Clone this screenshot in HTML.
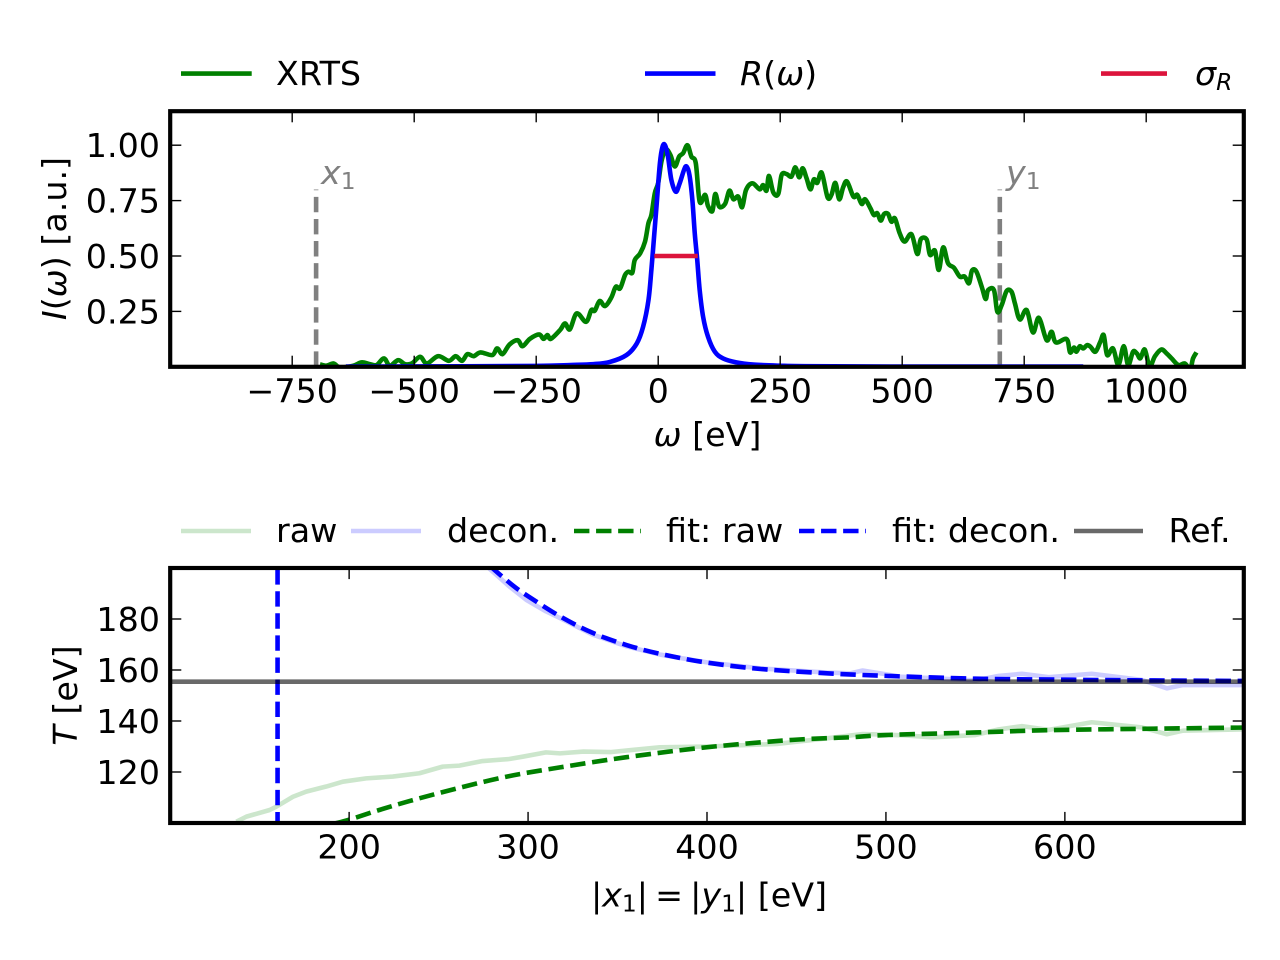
<!DOCTYPE html>
<html lang="en">
<head>
<meta charset="utf-8">
<title>XRTS spectrum and temperature fit</title>
<style>
html,body{margin:0;padding:0;background:#fff;width:1280px;height:960px;overflow:hidden}
svg{display:block}
text{font-family:"DejaVu Sans","Liberation Sans",sans-serif;font-size:33.33px;fill:#000}
.m{font-style:italic}
.s{font-size:23.33px}
</style>
</head>
<body>
<svg id="fig" xmlns="http://www.w3.org/2000/svg" width="1280" height="960" viewBox="0 0 1280 960">
  <defs>
    <clipPath id="clip-top"><rect x="170.2" y="111.2" width="1073.6" height="255.6"/></clipPath>
    <clipPath id="clip-bottom"><rect x="170.2" y="568" width="1073.6" height="255"/></clipPath>
  </defs>
  <g id="top-marks" clip-path="url(#clip-top)"></g>
  <g id="bottom-marks" clip-path="url(#clip-bottom)"></g>
  <g id="ticks"></g>

  <rect x="170.2" y="111.2" width="1073.6" height="255.6" fill="none" stroke="#000" stroke-width="4.17"/>
  <rect x="170.2" y="568" width="1073.6" height="255" fill="none" stroke="#000" stroke-width="4.17"/>

  <!-- top legend -->
  <g>
    <g>
      <line x1="181" y1="73.6" x2="251.7" y2="73.6" stroke="#008000" stroke-width="4.6"/>
      <text x="276" y="85">XRTS</text>
    </g>
    <g>
      <line x1="645" y1="73.6" x2="715.5" y2="73.6" stroke="#0000ff" stroke-width="4.6"/>
      <text x="740" y="85"><tspan class="m">R</tspan>(<tspan class="m">ω</tspan>)</text>
    </g>
    <g>
      <line x1="1101" y1="73.6" x2="1167" y2="73.6" stroke="#dc143c" stroke-width="4.6"/>
      <text x="1195" y="85"><tspan class="m">σ</tspan><tspan class="m s" dy="5">R</tspan></text>
    </g>
  </g>

  <!-- bottom legend -->
  <g>
    <g>
      <line x1="181" y1="531" x2="251" y2="531" stroke="#008000" stroke-opacity="0.2" stroke-width="4.6"/>
      <text x="276" y="542">raw</text>
    </g>
    <g>
      <line x1="351" y1="531" x2="421" y2="531" stroke="#0000ff" stroke-opacity="0.2" stroke-width="4.6"/>
      <text x="447" y="542">decon.</text>
    </g>
    <g>
      <line x1="574" y1="531" x2="641" y2="531" stroke="#008000" stroke-width="4.6" stroke-dasharray="15.4 6.67"/>
      <text x="666" y="542">fit: raw</text>
    </g>
    <g>
      <line x1="799" y1="531" x2="866" y2="531" stroke="#0000ff" stroke-width="4.6" stroke-dasharray="15.4 6.67"/>
      <text x="892" y="542">fit: decon.</text>
    </g>
    <g>
      <line x1="1074" y1="531" x2="1143" y2="531" stroke="#000" stroke-opacity="0.59" stroke-width="4.6"/>
      <text x="1168.5" y="542">Ref.</text>
    </g>
  </g>

  <!-- annotations -->
  <text x="321" y="184" style="fill:#808080"><tspan class="m">x</tspan><tspan class="s" dy="5">1</tspan></text>
  <text x="1006" y="184" style="fill:#808080"><tspan class="m">y</tspan><tspan class="s" dy="5">1</tspan></text>

  <!-- axis titles -->
  <text x="707.5" y="446" text-anchor="middle"><tspan class="m">ω</tspan> [eV]</text>
  <text transform="translate(66,238.5) rotate(-90)" text-anchor="middle"><tspan class="m">I</tspan>(<tspan class="m">ω</tspan>) [a.u.]</text>
  <text x="709" y="906.5" text-anchor="middle">|<tspan class="m">x</tspan><tspan class="s" dy="5">1</tspan><tspan dy="-5" style="word-spacing:-3.5px">| = |</tspan><tspan class="m">y</tspan><tspan class="s" dy="5">1</tspan><tspan dy="-5">| [eV]</tspan></text>
  <text transform="translate(77,695.5) rotate(-90)" text-anchor="middle"><tspan class="m">T</tspan> [eV]</text>
</svg>

<script>
// ---------- spectrum panel data ----------
const xrtsOmega = [-693,-680,-665,-653,-625,-608,-591,-577,-562,-550,-533,-519,-505,-488,-474,-451,-429,-415,-402,-391,-378,-364,-340,-330,-319,-305,-288,-278,-263,-244,-235,-227,-220,-201,-191,-181,-167,-148,-137,-130,-120,-109,-96,-87,-78,-68,-61,-53,-48,-37,-27,-20,-14,-7,0,7,16,25,34,43,51,60,68,77,85,96,102,111,117,125,137,146,154,164,172,180,193,208,215,222,227,236,246,253,263,273,281,289,296,304,312,319,326,335,347,355,363,371,379,387,400,408,417,424,435,442,449,456,463,471,478,485,495,505,519,531,538,550,557,567,575,584,594,606,618,628,637,643,652,663,671,676,688,695,704,714,724,731,741,755,768,780,796,806,815,837,844,852,857,864,871,879,886,896,906,913,920,932,943,954,963,973,981,988,997,1007,1018,1031,1042,1052,1066,1079,1090,1096,1103];
const xrtsIntensity = [0.011,0.005,0.015,-0.002,0.005,0.02,0.012,0.008,0.038,0.005,0.03,0.012,0.015,0.045,0.015,0.048,0.027,0.048,0.027,0.057,0.048,0.065,0.053,0.083,0.057,0.1,0.12,0.093,0.126,0.146,0.126,0.143,0.126,0.166,0.196,0.169,0.241,0.203,0.256,0.253,0.297,0.274,0.313,0.361,0.354,0.414,0.429,0.425,0.482,0.512,0.565,0.648,0.685,0.783,0.83,0.93,0.98,0.956,0.904,0.949,0.964,1.0,0.949,0.919,0.745,0.776,0.726,0.703,0.78,0.723,0.735,0.795,0.756,0.768,0.72,0.798,0.828,0.801,0.82,0.795,0.861,0.786,0.78,0.866,0.87,0.858,0.9,0.855,0.896,0.851,0.801,0.846,0.83,0.876,0.765,0.776,0.83,0.756,0.81,0.836,0.768,0.776,0.735,0.756,0.715,0.685,0.693,0.66,0.69,0.69,0.655,0.67,0.602,0.565,0.598,0.509,0.575,0.575,0.505,0.524,0.437,0.539,0.467,0.447,0.407,0.407,0.377,0.434,0.43,0.361,0.306,0.346,0.346,0.248,0.279,0.342,0.339,0.286,0.214,0.256,0.155,0.221,0.12,0.158,0.11,0.125,0.065,0.087,0.068,0.093,0.083,0.098,0.09,0.068,0.113,0.143,0.053,0.083,0.008,0.093,0.008,0.068,0.06,0.038,0.078,0.003,0.048,0.078,0.06,0.038,0.008,0.015,-0.01,0.038,0.065];

const respOmega = [-640,-400,-250,-180,-133,-99,-65,-44,-31,-20,-14,-8,-3,3.5,9,14,20,27,36,44,53,58,64,70,75,80,85,92,102,116,133,160,195,249,300,500,871];
const respIntensity = [0.001,0.002,0.004,0.008,0.012,0.022,0.053,0.105,0.18,0.3,0.437,0.6,0.738,0.919,0.994,1.0,0.949,0.843,0.79,0.828,0.889,0.904,0.866,0.753,0.6,0.482,0.346,0.226,0.136,0.068,0.038,0.02,0.01,0.005,0.003,0.001,0.001];

const sigmaOmega = [-8, 81];
const sigmaIntensity = [0.5, 0.5];

const cutoffOmega = [-701, 700];
const cutoffHeight = [0.8, 0.8];

const spectrumXTicks = [-750,-500,-250,0,250,500,750,1000];
const spectrumXLabels = ['\u2212750','\u2212500','\u2212250','0','250','500','750','1000'];
const spectrumYTicks = [0.25,0.5,0.75,1.0];
const spectrumYLabels = ['0.25','0.50','0.75','1.00'];

// ---------- temperature panel data ----------
const rawX = [137,142.6,155.6,159.3,168.6,176,187.2,196.5,209.5,224.4,239.3,252.3,261.6,274.6,289.5,297,310,317.8,331,346,373.6,400,439,467,487,510,526,550,563,576,591,615,643,657,666,697.5,705];
const rawT = [100.5,102.5,105.1,106.4,110.3,112.3,114.3,116.2,117.5,118.2,119.5,122.1,122.5,124.3,125.1,126,127.7,127.3,128,127.8,129.7,130,131,133.2,134.9,134.4,133.6,134.5,136.7,138,136.5,139.5,137.5,134.8,136.2,136.7,136.8];

const deconX = [278,290,299,310,318,336,355,374,400,430,467,480,487,508,526,550,563,576,591,615,643,657,666,697.5,705];
const deconT = [200,192.5,187.5,183,180.3,173.9,169.3,166,163,160.6,159,158.7,159.8,157.4,156.8,155.9,157.7,158.5,157.2,158.5,156.1,152.8,154.1,154.1,154.2];

const fitRawX = [192,200,215,233.7,261.6,289.5,317.8,355,400,448,480,500,550,591,650,697,705];
const fitRawT = [99.8,101.3,104.7,108.6,113.8,118.4,121.8,125.8,129.7,132.6,133.6,134.5,135.5,136.4,137,137.4,137.5];

const fitDeconX = [160,160,280,290,299,318,336,355,374,400,430,467,500,550,600,650,700,705];
const fitDeconT = [98.3,1000,200,194,189.4,181,174.6,169.8,166.3,162.9,160.4,158.7,157.7,156.6,156.2,155.9,155.7,155.7];

const refX = [100, 700];
const refT = [155.4, 155.4];

const tempXTicks = [200,300,400,500,600];
const tempXLabels = ['200','300','400','500','600'];
const tempYTicks = [120,140,160,180];
const tempYLabels = ['120','140','160','180'];

// ---------- axis functions ----------
const AX = {l:170.2, r:1243.8};
const sx = w => AX.l + (w + 1000) / 2200 * (AX.r - AX.l);
const sy = v => 366.8 - v * 221.6;
const tx = x => AX.l + (x - 100) / 600 * (AX.r - AX.l);
const ty = t => 823 - (t - 100) * 2.55;

const NS = 'http://www.w3.org/2000/svg';
const topG = document.getElementById('top-marks');
const botG = document.getElementById('bottom-marks');
const tickG = document.getElementById('ticks');

// Polyline up to index smoothFrom, then a Catmull-Rom curve through the remaining samples.
function pathFrom(xs, ys, fx, fy, smoothFrom) {
  const px = xs.map(fx), py = ys.map(fy);
  const n = px.length;
  let d = 'M' + px[0].toFixed(2) + ' ' + py[0].toFixed(2);
  for (let i = 1; i < n; i++) {
    if (smoothFrom === undefined || i - 1 < smoothFrom) {
      d += 'L' + px[i].toFixed(2) + ' ' + py[i].toFixed(2);
    } else {
      const a = Math.max(i - 2, smoothFrom), b = i - 1, c = i, e = Math.min(i + 1, n - 1);
      const c1x = px[b] + (px[c] - px[a]) / 6, c1y = py[b] + (py[c] - py[a]) / 6;
      const c2x = px[c] - (px[e] - px[b]) / 6, c2y = py[c] - (py[e] - py[b]) / 6;
      d += 'C' + c1x.toFixed(2) + ' ' + c1y.toFixed(2) + ' ' + c2x.toFixed(2) + ' ' + c2y.toFixed(2) + ' ' + px[c].toFixed(2) + ' ' + py[c].toFixed(2);
    }
  }
  return d;
}
function makeLine(parent, xs, ys, fx, fy, color, opacity, dashed, smoothFrom) {
  const p = document.createElementNS(NS, 'path');
  p.setAttribute('d', pathFrom(xs, ys, fx, fy, smoothFrom));
  p.setAttribute('fill', 'none');
  p.setAttribute('stroke', color);
  p.setAttribute('stroke-width', '4.6');
  p.setAttribute('stroke-linejoin', 'round');
  if (opacity < 1) p.setAttribute('stroke-opacity', opacity);
  if (dashed) p.setAttribute('stroke-dasharray', '15.4 6.67');
  parent.appendChild(p);
  return p;
}
function makeTick(x1, y1, x2, y2) {
  const l = document.createElementNS(NS, 'line');
  l.setAttribute('x1', x1); l.setAttribute('y1', y1);
  l.setAttribute('x2', x2); l.setAttribute('y2', y2);
  l.setAttribute('stroke', '#000');
  l.setAttribute('stroke-width', '1.39');
  tickG.appendChild(l);
  return l;
}
function makeLabel(x, y, anchor, str) {
  const t = document.createElementNS(NS, 'text');
  t.setAttribute('x', x); t.setAttribute('y', y);
  t.setAttribute('text-anchor', anchor);
  t.textContent = str;
  tickG.appendChild(t);
  return t;
}

// ---------- spectrum marks ----------
cutoffOmega.forEach((w, i) => {
  const g = makeLine(topG, [w, w], [0, cutoffHeight[i]], sx, sy, '#808080', 1, true);
  
  
});
const xrtsLine = makeLine(topG, xrtsOmega, xrtsIntensity, sx, sy, '#008000', 1, false, 0);


const respLine = makeLine(topG, respOmega, respIntensity, sx, sy, '#0000ff', 1, false, 0);


const sigmaLine = makeLine(topG, sigmaOmega, sigmaIntensity, sx, sy, '#dc143c', 1, false);



// ---------- temperature marks ----------
const rawLine = makeLine(botG, rawX, rawT, tx, ty, '#008000', 0.2, false);


const deconLine = makeLine(botG, deconX, deconT, tx, ty, '#0000ff', 0.2, false);


const fitRawLine = makeLine(botG, fitRawX, fitRawT, tx, ty, '#008000', 1, true, 0);


const fitDeconLine = makeLine(botG, fitDeconX, fitDeconT, tx, ty, '#0000ff', 1, true, 2);


const refLine = makeLine(botG, refX, refT, tx, ty, '#000', 0.59, false);



// ---------- ticks and labels ----------
spectrumXTicks.forEach((v, i) => {
  const a = makeTick(sx(v), 366.8, sx(v), 355.7);
  
  
  const b = makeTick(sx(v), 111.2, sx(v), 122.3);
  
  
  const t = makeLabel(sx(v), 402.5, 'middle', spectrumXLabels[i]);
  
  
});
spectrumYTicks.forEach((v, i) => {
  const a = makeTick(AX.l, sy(v), AX.l + 11.1, sy(v));
  
  
  const b = makeTick(AX.r, sy(v), AX.r - 11.1, sy(v));
  
  
  const t = makeLabel(160, sy(v) + 12, 'end', spectrumYLabels[i]);
  
  
});
tempXTicks.forEach((v, i) => {
  const a = makeTick(tx(v), 823, tx(v), 811.9);
  
  
  const b = makeTick(tx(v), 568, tx(v), 579.1);
  
  
  const t = makeLabel(tx(v), 858.5, 'middle', tempXLabels[i]);
  
  
});
tempYTicks.forEach((v, i) => {
  const a = makeTick(AX.l, ty(v), AX.l + 11.1, ty(v));
  
  
  const b = makeTick(AX.r, ty(v), AX.r - 11.1, ty(v));
  
  
  const t = makeLabel(160, ty(v) + 12, 'end', tempYLabels[i]);
  
  
});
</script>
</body>
</html>
